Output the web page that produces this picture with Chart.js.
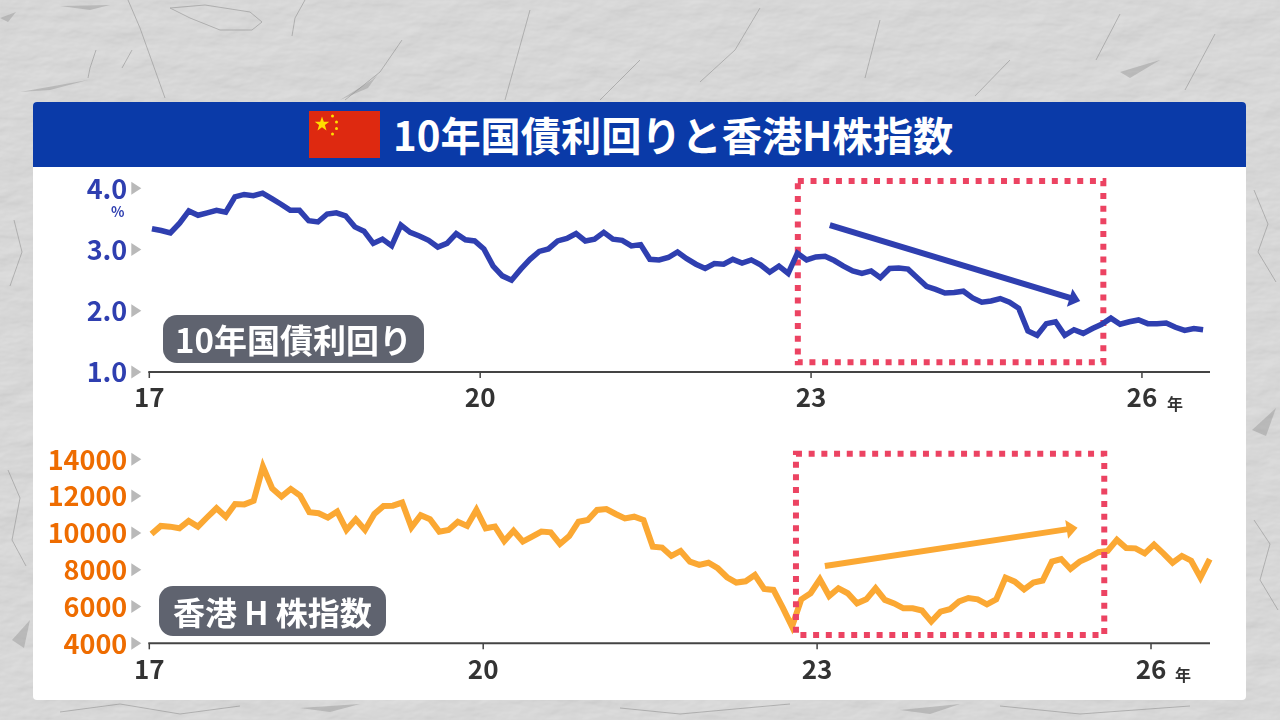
<!DOCTYPE html>
<html lang="ja">
<head>
<meta charset="utf-8">
<title>10年国債利回りと香港H株指数</title>
<script src="https://cdn.jsdelivr.net/npm/chart.js@4"></script>
<style>
    html, body { margin: 0; padding: 0; }
    body { width: 1280px; height: 720px; overflow: hidden; position: relative; background: #d4d4d4;
           font-family: "Noto Sans CJK JP", "Noto Sans", sans-serif; }
    #texture { position: absolute; left: 0; top: 0; }
    #panel { position: absolute; left: 33px; top: 102px; width: 1213px; height: 598px; background: #fff; border-radius: 4px; }
    #header { position: absolute; left: 33px; top: 102px; width: 1213px; height: 65px; background: #0a3aa8; border-radius: 4px 4px 0 0; }
    #flag { position: absolute; left: 309px; top: 111px; }
    #title { position: absolute; left: 393px; top: 106px; color: #fff; font-size: 40.2px; font-weight: 700; line-height: 56px; white-space: nowrap; }
    canvas { position: absolute; left: 33px; }
    #chart-yield { top: 170px; }
    #chart-index { top: 440px; }
    .pill { position: absolute; background: #5f636f; color: #fff; font-weight: 700; font-size: 32px; border-radius: 14px;
            text-align: center; white-space: nowrap; }
    #pill-yield { left: 163px; top: 315px; width: 261px; height: 48px; line-height: 48px; font-size: 33px; }
    #pill-index { left: 159px; top: 586px; width: 227px; height: 50px; line-height: 50px; }
    .unit { position: absolute; font-weight: 700; line-height: 1; }
    #unit-pct { left: 111px; top: 204px; font-size: 14px; color: #2f3fb0; }
    #unit-yr1 { left: 1167px; top: 395px; font-size: 16px; color: #333; }
    #unit-yr2 { left: 1175px; top: 666px; font-size: 16px; color: #333; }
</style>
</head>
<body>
<svg id="texture" width="1280" height="720">
    <filter id="plaster" x="0" y="0" width="100%" height="100%">
        <feTurbulence type="fractalNoise" baseFrequency="0.02 0.04" numOctaves="4" seed="11" result="n"/>
        <feDiffuseLighting in="n" surfaceScale="1.2" lighting-color="#d8d8d8" diffuseConstant="1.12">
            <feDistantLight azimuth="235" elevation="62"/>
        </feDiffuseLighting>
    </filter>
    <rect width="1280" height="720" filter="url(#plaster)"/>
    <g fill="none" stroke="#7d7d7d" stroke-width="1" opacity="0.45">
        <path d="M128 0 L140 28 L165 98"/>
        <path d="M170 8 L205 5 L250 12 L262 22 L252 30 L220 30 L190 18 Z"/>
        <path d="M305 0 L295 18 L292 36"/>
        <path d="M96 50 L90 68 L88 78"/>
        <path d="M132 50 L122 68"/>
        <path d="M402 40 L380 72 L345 100"/>
        <path d="M530 10 L505 100"/>
        <path d="M640 60 L600 100"/>
        <path d="M760 8 L735 50 L700 82"/>
        <path d="M880 20 L865 78"/>
        <path d="M1010 60 L975 96"/>
        <path d="M1120 14 L1096 60"/>
        <path d="M1215 34 L1185 90"/>
        <path d="M14 220 L22 252 L10 286"/>
        <path d="M8 470 L20 498 L12 540 L26 566"/>
        <path d="M1254 190 L1268 224 L1258 252 L1276 282"/>
        <path d="M1254 520 L1270 544 L1260 580 L1278 610"/>
        <path d="M60 712 L120 704 L180 714 L240 706"/>
        <path d="M620 708 L680 714 L790 704"/>
        <path d="M1000 706 L1080 714 L1190 706"/>
    </g>
    <g fill="#8d8d8d" opacity="0.4">
        <polygon points="0,18 16,12 8,22"/>
        <polygon points="60,6 110,5 90,10"/>
        <polygon points="20,92 88,80 50,90"/>
        <polygon points="340,100 372,80 378,74 368,88"/>
        <polygon points="1120,72 1160,60 1130,78"/>
        <polygon points="12,640 30,620 24,648"/>
        <polygon points="1252,430 1276,408 1266,436"/>
        <polygon points="300,708 360,704 330,712"/>
        <polygon points="900,710 960,704 930,714"/>
    </g>
</svg>
<div id="panel"></div>
<div id="header"></div>
<svg id="flag" width="71" height="47" viewBox="0 0 71 47">
    <rect width="71" height="47" fill="#de2910"/>
    <polygon fill="#ffde00" points="13,5.5 14.8,10.8 20.3,10.8 15.9,14.1 17.5,19.4 13,16.2 8.5,19.4 10.1,14.1 5.7,10.8 11.2,10.8"/>
    <circle cx="23.5" cy="5" r="1.5" fill="#ffde00"/>
    <circle cx="27.5" cy="11" r="1.5" fill="#ffde00"/>
    <circle cx="27.5" cy="17.5" r="1.5" fill="#ffde00"/>
    <circle cx="23.5" cy="23" r="1.5" fill="#ffde00"/>
</svg>
<div id="title">10年国債利回りと香港H株指数</div>

<canvas id="chart-yield" width="1213" height="250"></canvas>
<canvas id="chart-index" width="1213" height="250"></canvas>

<div id="pill-yield" class="pill">10年国債利回り</div>
<div id="pill-index" class="pill">香港 H 株指数</div>
<div id="unit-pct" class="unit">%</div>
<div id="unit-yr1" class="unit">年</div>
<div id="unit-yr2" class="unit">年</div>

<script>
    // Values, one a month from January 2017
    const yieldValues = [
        3.34, 3.31, 3.27, 3.43, 3.63, 3.56, 3.60, 3.64, 3.61, 3.86,
        3.90, 3.88, 3.92, 3.83, 3.74, 3.64, 3.64, 3.47, 3.45, 3.58,
        3.60, 3.55, 3.37, 3.30, 3.10, 3.17, 3.06, 3.40, 3.28, 3.22,
        3.15, 3.04, 3.10, 3.26, 3.16, 3.14, 3.01, 2.73, 2.57, 2.50,
        2.68, 2.84, 2.97, 3.01, 3.14, 3.18, 3.26, 3.14, 3.17, 3.28,
        3.17, 3.15, 3.06, 3.08, 2.84, 2.83, 2.87, 2.96, 2.85, 2.76,
        2.69, 2.77, 2.76, 2.84, 2.78, 2.83, 2.75, 2.63, 2.73, 2.61,
        2.94, 2.83, 2.88, 2.89, 2.82, 2.73, 2.65, 2.61, 2.65, 2.54,
        2.69, 2.70, 2.68, 2.54, 2.40, 2.35, 2.29, 2.30, 2.32, 2.21,
        2.14, 2.16, 2.20, 2.14, 2.04, 1.67, 1.60, 1.79, 1.82, 1.60,
        1.69, 1.63, 1.71, 1.78, 1.88, 1.78, 1.82, 1.85, 1.79, 1.79,
        1.80, 1.73, 1.68, 1.71, 1.69
    ];
    const indexValues = [
        9940, 10380, 10340, 10250, 10650, 10340, 10850, 11340, 10880, 11570,
        11550, 11750, 13600, 12420, 11970, 12390, 12030, 11120, 11070, 10830,
        11160, 10160, 10740, 10160, 11030, 11460, 11480, 11650, 10300, 10960,
        10740, 10070, 10160, 10610, 10380, 11250, 10250, 10340, 9560, 10120,
        9530, 9800, 10070, 10030, 9400, 9830, 10610, 10700, 11250, 11300,
        11030, 10790, 10880, 10700, 9250, 9200, 8750, 9020, 8440, 8260,
        8380, 8080, 7590, 7300, 7370, 7710, 6950, 6900, 5940, 4910,
        6390, 6720, 7480, 6570, 6990, 6720, 6170, 6390, 6990, 6360,
        6170, 5900, 5900, 5780, 5180, 5720, 5850, 6280, 6460, 6390,
        6120, 6390, 7570, 7350, 6930, 7300, 7410, 8440, 8580, 8040,
        8440, 8670, 8950, 9020, 9620, 9180, 9160, 8890, 9360, 8890,
        8380, 8750, 8490, 7570, 8570
    ];
    const yearTicks = [17, 20, 23, 26];
    const yieldTicks = [1, 2, 3, 4];
    const indexTicks = [4000, 6000, 8000, 10000, 12000, 14000];

    // Highlight boxes and trend arrows, in chart units
    const yieldBoxX = [22.88, 25.65];
    const yieldBoxY = [1.16, 4.12];
    const indexBoxX = [22.81, 25.58];
    const indexBoxY = [4450, 14300];
    const yieldArrowX = [23.17, 25.44];
    const yieldArrowY = [3.40, 2.16];
    const indexArrowX = [23.07, 25.34];
    const indexArrowY = [8200, 10283];

    const FONT = '"Noto Sans CJK JP", "Noto Sans", sans-serif';

    /**
     * Draws the dotted box from the chart's own scales
     */
    function drawBox(chart, opts) {
        const ctx = chart.ctx;
        const x = chart.scales.x;
        const y = chart.scales.y;

        const left = x.getPixelForValue(opts.boxX[0]);
        const right = x.getPixelForValue(opts.boxX[1]);
        const bottom = y.getPixelForValue(opts.boxY[0]);
        const top = y.getPixelForValue(opts.boxY[1]);
        ctx.save();
        ctx.strokeStyle = '#ec4362';
        ctx.lineWidth = 6;
        ctx.setLineDash([6, 6.7]);
        ctx.strokeRect(left, top, right - left, bottom - top);
        ctx.restore();
    }

    function drawArrow(chart, opts) {
        const ctx = chart.ctx;
        const x = chart.scales.x;
        const y = chart.scales.y;
        const x0 = x.getPixelForValue(opts.arrowX[0]);
        const y0 = y.getPixelForValue(opts.arrowY[0]);
        const x1 = x.getPixelForValue(opts.arrowX[1]);
        const y1 = y.getPixelForValue(opts.arrowY[1]);
        const angle = Math.atan2(y1 - y0, x1 - x0);

        ctx.save();
        ctx.strokeStyle = opts.color;
        ctx.fillStyle = opts.color;
        ctx.lineWidth = 6;
        ctx.beginPath();
        ctx.moveTo(x0, y0);
        ctx.lineTo(x1 - 8 * Math.cos(angle), y1 - 8 * Math.sin(angle));
        ctx.stroke();
        ctx.translate(x1, y1);
        ctx.rotate(angle);
        ctx.beginPath();
        ctx.moveTo(0, 0);
        ctx.lineTo(-11, -9.5);
        ctx.lineTo(-11, 9.5);
        ctx.closePath();
        ctx.fill();
        ctx.restore();
    }

    // Grey triangles beside the y tick labels, the box and the arrow
    const notesPlugin = {
        id: 'notes',
        beforeDatasetsDraw(chart, args, opts) {
            if (opts.boxBehind) drawBox(chart, opts);
        },
        afterDatasetsDraw(chart, args, opts) {
            if (!opts.boxBehind) drawBox(chart, opts);
            drawArrow(chart, opts);

            const ctx = chart.ctx;
            const left = chart.scales.y.right;
            ctx.save();
            ctx.fillStyle = '#b9b9b9';
            chart.scales.y.ticks.forEach(t => {
                const py = chart.scales.y.getPixelForValue(t.value);
                ctx.beginPath();
                ctx.moveTo(left - 18, py - 6.5);
                ctx.lineTo(left - 8, py);
                ctx.lineTo(left - 18, py + 6.5);
                ctx.closePath();
                ctx.fill();
            });
            ctx.restore();
        }
    };

    // X axis line and its tick marks
    const axisPlugin = {
        id: 'axisLine',
        afterDraw(chart) {
            const x = chart.scales.x;
            const ctx = chart.ctx;
            const base = chart.chartArea.bottom;
            ctx.save();
            ctx.strokeStyle = '#444444';
            ctx.lineWidth = 2;
            ctx.beginPath();
            ctx.moveTo(chart.chartArea.left - 1, base);
            ctx.lineTo(chart.chartArea.right, base);
            ctx.stroke();
            ctx.lineWidth = 1.5;
            yearTicks.forEach(v => {
                const px = x.getPixelForValue(v);
                ctx.beginPath();
                ctx.moveTo(px, base);
                ctx.lineTo(px, base + 6);
                ctx.stroke();
            });
            ctx.restore();
        }
    };

    /**
     * Builds one of the two line panels
     */
    function makeChart(canvasId, cfg) {
        return new Chart(document.getElementById(canvasId), {
            type: 'line',
            data: {
                datasets: [{
                    data: cfg.values.map((v, i) => ({ x: cfg.xStart + i * cfg.xStep, y: v })),
                    borderColor: cfg.lineColor,
                    borderWidth: cfg.lineWidth,
                    pointRadius: 0,
                    tension: 0,
                    clip: false
                }]
            },
            options: {
                responsive: false,
                animation: false,
                layout: { padding: { top: cfg.padTop, right: 36, left: 0, bottom: 0 } },
                plugins: {
                    legend: { display: false },
                    tooltip: { enabled: false },
                    notes: {
                        boxX: cfg.boxX, boxY: cfg.boxY, boxBehind: cfg.boxBehind,
                        arrowX: cfg.arrowX, arrowY: cfg.arrowY, color: cfg.arrowColor
                    }
                },
                scales: {
                    x: {
                        type: 'linear',
                        min: 17,
                        max: cfg.xMax,
                        afterBuildTicks: s => { s.ticks = yearTicks.map(v => ({ value: v })); },
                        afterFit: s => { s.height = cfg.axisHeight; s.paddingLeft = 0; s.paddingRight = 0; },
                        grid: { display: false, drawTicks: true, tickLength: 6 },
                        border: { display: false },
                        ticks: {
                            color: '#333333',
                            maxRotation: 0,
                            autoSkip: false,
                            padding: 4,
                            font: { family: FONT, size: 26, weight: '700' },
                            callback: v => String(v)
                        }
                    },
                    y: {
                        min: cfg.yTicks[0],
                        max: cfg.yTicks[cfg.yTicks.length - 1],
                        afterBuildTicks: s => { s.ticks = cfg.yTicks.map(v => ({ value: v })); },
                        afterFit: s => { s.width = 116.3; s.paddingTop = 0; s.paddingBottom = 0; },
                        grid: { display: false },
                        border: { display: false },
                        ticks: {
                            color: cfg.tickColor,
                            autoSkip: false,
                            padding: 14,
                            font: { family: FONT, size: 27, weight: '700' },
                            callback: cfg.yLabel
                        }
                    }
                }
            },
            plugins: [notesPlugin, axisPlugin]
        });
    }

    window.addEventListener('load', () => {
        makeChart('chart-yield', {
            values: yieldValues, xStart: 17.024, xStep: 0.0836, xMax: 26.617,
            lineColor: '#2f3fb0', lineWidth: 5.5, tickColor: '#2f3fb0',
            arrowColor: '#2f3fb0', padTop: 18.3, axisHeight: 48,
            yTicks: yieldTicks, yLabel: v => v.toFixed(1),
            boxX: yieldBoxX, boxY: yieldBoxY, boxBehind: true,
            arrowX: yieldArrowX, arrowY: yieldArrowY
        });
        makeChart('chart-index', {
            values: indexValues, xStart: 17.02, xStep: 0.0834, xMax: 26.53,
            lineColor: '#fba833', lineWidth: 6, tickColor: '#ee6c00',
            arrowColor: '#fba833', padTop: 19.3, axisHeight: 46.7,
            yTicks: indexTicks, yLabel: v => String(v),
            boxX: indexBoxX, boxY: indexBoxY, boxBehind: false,
            arrowX: indexArrowX, arrowY: indexArrowY
        });
    });
</script>
</body>
</html>
